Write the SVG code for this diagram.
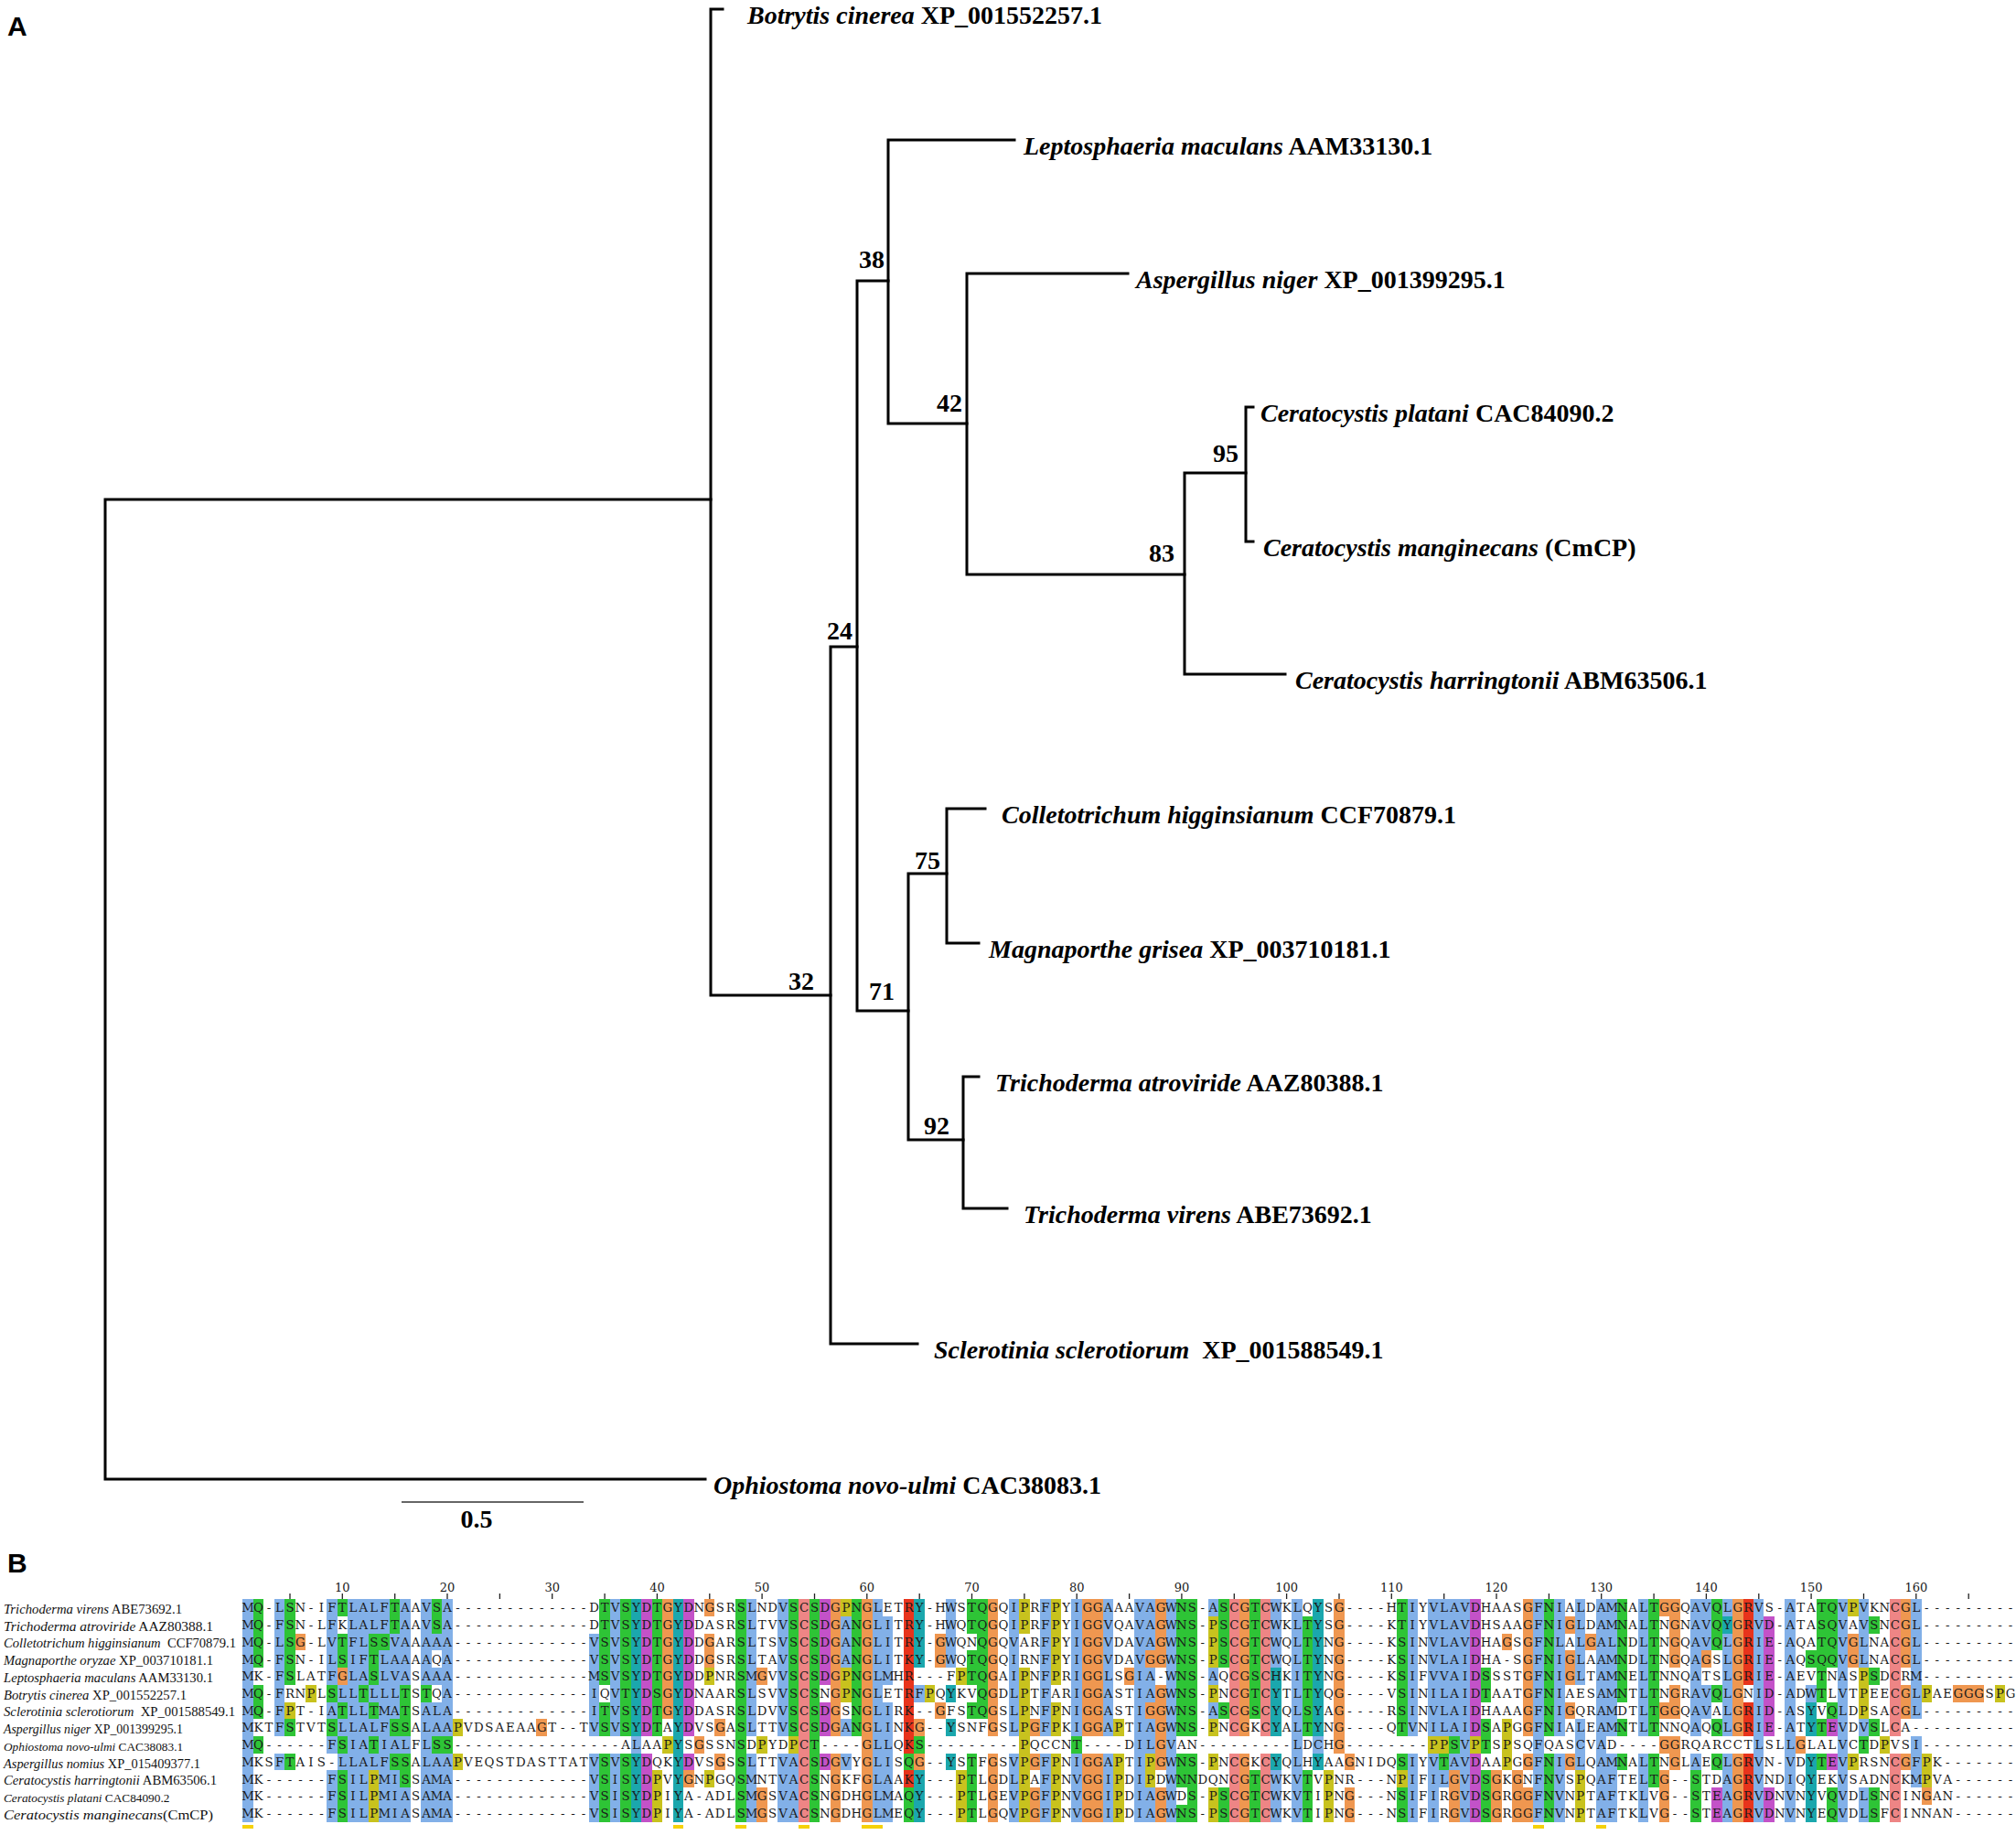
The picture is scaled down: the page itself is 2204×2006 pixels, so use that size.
<svg xmlns="http://www.w3.org/2000/svg" width="2204" height="2006" viewBox="0 0 2204 2006">
<style>
.lbl{font-family:"Liberation Serif","Times New Roman",serif;font-size:28px;font-weight:bold;fill:#000}
.it{font-style:italic}
.bs{font-family:"Liberation Serif","Times New Roman",serif;font-size:28px;font-weight:bold;text-anchor:middle;fill:#000}
.pl{font-family:"Liberation Sans",Arial,sans-serif;font-size:30px;font-weight:bold;fill:#000}
.nm{font-family:"Liberation Serif","Times New Roman",serif;font-size:14.6px;fill:#111}
.seq{font-family:"DejaVu Serif",serif;font-size:13.3px;fill:#1a1a1a;text-anchor:middle}
.rul{font-family:"DejaVu Serif",serif;font-size:13px;fill:#1a1a1a;text-anchor:middle}
.cb{fill:#82b0e8}.cg{fill:#2ec436}.cm{fill:#c352c8}.cr{fill:#e8341c}.co{fill:#ef9750}.cy{fill:#c8c21e}.cp{fill:#ee8585}.cc{fill:#1ba7ad}.cz{fill:#f5d10a}
</style>
<rect width="2204" height="2006" fill="#fff"/>
<text class="pl" x="8" y="39">A</text>
<g id="tree-connectors" stroke="#000" stroke-width="3" fill="none" stroke-linecap="square">
<path d="M115 546V1617M115 546H777M115 1617H771"/>
<path d="M777 10V1088M777 10H790M777 1088H908"/>
<path d="M908 707V1469M908 1469H1003M908 707H937"/>
<path d="M937 307V1105M937 307H971M937 1105H993"/>
<path d="M971 153V463M971 153H1109M971 463H1057"/>
<path d="M1057 299V628M1057 299H1233M1057 628H1295"/>
<path d="M1295 517V737M1295 517H1362M1295 737H1405"/>
<path d="M1362 445V592M1362 445H1370M1362 592H1370"/>
<path d="M993 955V1246M993 955H1035M993 1246H1053"/>
<path d="M1035 884V1031M1035 884H1077M1035 1031H1070"/>
<path d="M1053 1177V1321M1053 1177H1070M1053 1321H1101"/>
</g>
<g id="leaf-botrytis"><text class="lbl" x="817" y="26"><tspan class="it">Botrytis cinerea</tspan> XP_001552257.1</text></g>
<g id="leaf-leptosphaeria"><text class="lbl" x="1119" y="169"><tspan class="it">Leptosphaeria maculans</tspan> AAM33130.1</text></g>
<g id="leaf-aspergillus"><text class="lbl" x="1242" y="315"><tspan class="it">Aspergillus niger</tspan> XP_001399295.1</text></g>
<g id="leaf-platani"><text class="lbl" x="1378" y="461"><tspan class="it">Ceratocystis platani</tspan> CAC84090.2</text></g>
<g id="leaf-manginecans"><text class="lbl" x="1381" y="608"><tspan class="it">Ceratocystis manginecans</tspan> (CmCP)</text></g>
<g id="leaf-harringtonii"><text class="lbl" x="1416" y="753"><tspan class="it">Ceratocystis harringtonii</tspan> ABM63506.1</text></g>
<g id="leaf-colletotrichum"><text class="lbl" x="1095" y="900"><tspan class="it">Colletotrichum higginsianum</tspan> CCF70879.1</text></g>
<g id="leaf-magnaporthe"><text class="lbl" x="1081" y="1047"><tspan class="it">Magnaporthe grisea</tspan> XP_003710181.1</text></g>
<g id="leaf-atroviride"><text class="lbl" x="1088" y="1193"><tspan class="it">Trichoderma atroviride</tspan> AAZ80388.1</text></g>
<g id="leaf-virens"><text class="lbl" x="1119" y="1337"><tspan class="it">Trichoderma virens</tspan> ABE73692.1</text></g>
<g id="leaf-sclerotinia"><text class="lbl" x="1021" y="1485"><tspan class="it">Sclerotinia sclerotiorum</tspan>&#160; XP_001588549.1</text></g>
<g id="leaf-ophiostoma"><text class="lbl" x="780" y="1633"><tspan class="it">Ophiostoma novo-ulmi</tspan> CAC38083.1</text></g>
<g id="node-38"><text class="bs" x="953" y="293">38</text></g>
<g id="node-42"><text class="bs" x="1038" y="450">42</text></g>
<g id="node-24"><text class="bs" x="918" y="699">24</text></g>
<g id="node-32"><text class="bs" x="876" y="1082">32</text></g>
<g id="node-71"><text class="bs" x="964" y="1093">71</text></g>
<g id="node-75"><text class="bs" x="1014" y="950">75</text></g>
<g id="node-92"><text class="bs" x="1024" y="1240">92</text></g>
<g id="node-95"><text class="bs" x="1340" y="505">95</text></g>
<g id="node-83"><text class="bs" x="1270" y="614">83</text></g>
<g id="scale-bar"><path d="M439 1642H638" stroke="#333" stroke-width="1.5"/><text class="bs" x="521" y="1670">0.5</text></g>
<text class="pl" x="8" y="1719">B</text>
<g id="alignment-names">
<text class="nm" x="4" y="1764" textLength="195" lengthAdjust="spacingAndGlyphs"><tspan class="it">Trichoderma virens</tspan> ABE73692.1</text>
<text class="nm" x="4" y="1782.7" textLength="229" lengthAdjust="spacingAndGlyphs"><tspan class="it">Trichoderma atroviride</tspan> AAZ80388.1</text>
<text class="nm" x="4" y="1801.4" textLength="254" lengthAdjust="spacingAndGlyphs"><tspan class="it">Colletotrichum higginsianum</tspan>&#160; CCF70879.1</text>
<text class="nm" x="4" y="1820.2" textLength="229" lengthAdjust="spacingAndGlyphs"><tspan class="it">Magnaporthe oryzae</tspan> XP_003710181.1</text>
<text class="nm" x="4" y="1838.9" textLength="229" lengthAdjust="spacingAndGlyphs"><tspan class="it">Leptosphaeria maculans</tspan> AAM33130.1</text>
<text class="nm" x="4" y="1857.6" textLength="200" lengthAdjust="spacingAndGlyphs"><tspan class="it">Botrytis cinerea</tspan> XP_001552257.1</text>
<text class="nm" x="4" y="1876.3" textLength="253" lengthAdjust="spacingAndGlyphs"><tspan class="it">Sclerotinia sclerotiorum</tspan>&#160; XP_001588549.1</text>
<text class="nm" x="4" y="1895" textLength="196" lengthAdjust="spacingAndGlyphs"><tspan class="it">Aspergillus niger</tspan> XP_001399295.1</text>
<text class="nm" x="4" y="1913.8" style="font-size:13.3px"><tspan class="it">Ophiostoma novo-ulmi</tspan> CAC38083.1</text>
<text class="nm" x="4" y="1932.5" textLength="215" lengthAdjust="spacingAndGlyphs"><tspan class="it">Aspergillus nomius</tspan> XP_015409377.1</text>
<text class="nm" x="4" y="1951.2" textLength="233" lengthAdjust="spacingAndGlyphs"><tspan class="it">Ceratocystis harringtonii</tspan> ABM63506.1</text>
<text class="nm" x="4" y="1969.9" style="font-size:13.3px"><tspan class="it">Ceratocystis platani</tspan> CAC84090.2</text>
<text class="nm" x="4" y="1988.6" textLength="229" lengthAdjust="spacingAndGlyphs"><tspan class="it">Ceratocystis manginecans</tspan>(CmCP)</text>
</g>
<g id="alignment-ruler">
<path stroke="#222" stroke-width="1.3" fill="none" d="M317 1742v6M374.3 1742v6M431.7 1742v6M489 1742v6M546.4 1742v6M603.7 1742v6M661.1 1742v6M718.4 1742v6M775.8 1742v6M833.1 1742v6M890.5 1742v6M947.8 1742v6M1005.2 1742v6M1062.5 1742v6M1119.9 1742v6M1177.2 1742v6M1234.6 1742v6M1291.9 1742v6M1349.3 1742v6M1406.6 1742v6M1464 1742v6M1521.3 1742v6M1578.7 1742v6M1636 1742v6M1693.4 1742v6M1750.7 1742v6M1808.1 1742v6M1865.4 1742v6M1922.8 1742v6M1980.1 1742v6M2037.5 1742v6M2094.8 1742v6M2152.2 1742v6"/>
<text class="rul" x="374.3" y="1740">10</text><text class="rul" x="489" y="1740">20</text><text class="rul" x="603.7" y="1740">30</text><text class="rul" x="718.4" y="1740">40</text><text class="rul" x="833.1" y="1740">50</text><text class="rul" x="947.8" y="1740">60</text><text class="rul" x="1062.5" y="1740">70</text><text class="rul" x="1177.2" y="1740">80</text><text class="rul" x="1291.9" y="1740">90</text><text class="rul" x="1406.6" y="1740">100</text><text class="rul" x="1521.3" y="1740">110</text><text class="rul" x="1636" y="1740">120</text><text class="rul" x="1750.7" y="1740">130</text><text class="rul" x="1865.4" y="1740">140</text><text class="rul" x="1980.1" y="1740">150</text><text class="rul" x="2094.8" y="1740">160</text>
</g>
<g id="alignment-colours" transform="translate(253.865 1729.58) scale(11.47 18.72)" shape-rendering="crispEdges">
<path class="cb" d="M1 1h1v13h-1zM4 1h1v8h-1zM4 10h1v1h-1zM9 1h1v5h-1zM9 7h1v1h-1zM9 9h1v1h-1zM9 11h1v3h-1zM10 6h1v1h-1zM10 8h1v1h-1zM10 10h1v1h-1zM11 1h1v13h-1zM12 1h1v5h-1zM12 7h1v7h-1zM13 1h1v2h-1zM13 6h1v1h-1zM13 8h1v1h-1zM13 10h1v1h-1zM14 1h1v2h-1zM14 4h1v10h-1zM15 3h1v5h-1zM15 9h1v1h-1zM15 11h1v3h-1zM16 1h1v5h-1zM16 9h1v1h-1zM16 12h1v2h-1zM18 1h1v5h-1zM18 7h1v7h-1zM19 3h1v1h-1zM19 5h1v1h-1zM19 7h1v2h-1zM19 10h1v4h-1zM20 1h1v8h-1zM20 10h1v4h-1zM34 3h1v6h-1zM34 10h1v4h-1zM36 1h1v8h-1zM36 10h1v4h-1zM38 9h1v1h-1zM49 1h1v8h-1zM49 10h1v4h-1zM52 1h1v8h-1zM52 10h1v4h-1zM53 10h1v4h-1zM58 2h1v3h-1zM58 8h1v1h-1zM58 10h1v1h-1zM61 1h1v13h-1zM62 2h1v4h-1zM62 7h1v7h-1zM65 6h1v1h-1zM68 1h1v4h-1zM74 1h1v8h-1zM74 10h1v4h-1zM77 1h1v8h-1zM77 10h1v4h-1zM80 1h1v8h-1zM80 10h1v4h-1zM83 1h1v8h-1zM83 10h1v4h-1zM86 1h1v13h-1zM87 1h1v3h-1zM87 5h1v2h-1zM87 8h1v2h-1zM87 12h1v2h-1zM89 1h1v13h-1zM93 1h1v1h-1zM93 5h1v1h-1zM93 7h1v1h-1zM99 1h1v4h-1zM99 11h1v3h-1zM101 1h1v13h-1zM103 9h1v1h-1zM112 1h1v8h-1zM112 10h1v4h-1zM114 1h1v8h-1zM114 10h1v4h-1zM115 1h1v8h-1zM115 11h1v1h-1zM116 1h1v8h-1zM116 10h1v1h-1zM117 1h1v13h-1zM124 1h1v13h-1zM126 1h1v8h-1zM126 10h1v4h-1zM128 1h1v5h-1zM128 8h1v3h-1zM130 1h1v13h-1zM131 1h1v8h-1zM131 10h1v4h-1zM134 1h1v8h-1zM134 10h1v4h-1zM139 1h1v8h-1zM139 10h1v1h-1zM140 1h1v3h-1zM140 6h1v2h-1zM142 1h1v1h-1zM142 3h1v6h-1zM142 10h1v4h-1zM145 1h1v13h-1zM148 1h1v13h-1zM150 6h1v1h-1zM153 1h1v13h-1zM155 1h1v4h-1zM155 8h1v1h-1zM155 12h1v2h-1zM160 1h1v7h-1zM160 9h1v3h-1z"/>
<path class="cg" d="M2 1h1v4h-1zM2 6h1v2h-1zM2 9h1v1h-1zM5 1h1v5h-1zM5 8h1v1h-1zM5 10h1v1h-1zM9 6h1v1h-1zM9 8h1v1h-1zM10 1h1v1h-1zM10 3h1v2h-1zM10 7h1v1h-1zM10 9h1v1h-1zM10 11h1v3h-1zM12 6h1v1h-1zM13 3h1v3h-1zM13 7h1v1h-1zM13 9h1v1h-1zM14 3h1v1h-1zM15 1h1v2h-1zM15 8h1v1h-1zM15 10h1v1h-1zM16 6h1v3h-1zM16 10h1v2h-1zM18 6h1v1h-1zM19 1h1v2h-1zM19 9h1v1h-1zM20 9h1v1h-1zM35 1h1v5h-1zM35 7h1v2h-1zM35 10h1v4h-1zM37 1h1v8h-1zM37 10h1v4h-1zM40 1h1v8h-1zM48 1h1v13h-1zM53 1h1v8h-1zM55 1h1v13h-1zM59 1h1v8h-1zM64 10h1v1h-1zM64 12h1v2h-1zM65 9h1v1h-1zM70 1h1v2h-1zM70 4h1v2h-1zM70 7h1v1h-1zM70 10h1v4h-1zM71 1h1v7h-1zM80 9h1v1h-1zM90 1h1v8h-1zM90 10h1v2h-1zM90 13h1v1h-1zM91 1h1v8h-1zM91 10h1v4h-1zM94 1h1v4h-1zM94 7h1v1h-1zM94 12h1v2h-1zM97 1h1v7h-1zM97 11h1v3h-1zM102 2h1v7h-1zM102 11h1v3h-1zM111 1h1v8h-1zM111 10h1v1h-1zM111 12h1v2h-1zM115 10h1v1h-1zM116 9h1v1h-1zM119 5h1v2h-1zM119 8h1v2h-1zM119 11h1v3h-1zM125 1h1v8h-1zM125 10h1v4h-1zM132 1h1v6h-1zM132 8h1v1h-1zM132 10h1v1h-1zM135 1h1v8h-1zM135 10h1v2h-1zM139 11h1v3h-1zM141 1h1v3h-1zM141 6h1v1h-1zM141 8h1v1h-1zM141 10h1v1h-1zM150 4h1v1h-1zM151 1h1v6h-1zM151 8h1v1h-1zM151 10h1v1h-1zM152 1h1v4h-1zM152 7h1v1h-1zM152 12h1v2h-1zM155 9h1v1h-1zM156 2h1v1h-1zM156 5h1v1h-1zM156 8h1v1h-1zM156 12h1v2h-1z"/>
<path class="cm" d="M39 1h1v8h-1zM39 10h1v4h-1zM43 1h1v8h-1zM43 10h1v1h-1zM56 1h1v5h-1zM56 7h1v2h-1zM56 10h1v1h-1zM118 1h1v8h-1zM118 10h1v4h-1zM141 12h1v2h-1zM146 2h1v7h-1zM146 12h1v2h-1zM152 8h1v1h-1zM152 10h1v1h-1z"/>
<path class="cr" d="M64 1h1v9h-1zM64 11h1v1h-1zM144 1h1v5h-1zM144 7h1v2h-1zM144 10h1v4h-1z"/>
<path class="co" d="M6 3h1v1h-1zM10 5h1v1h-1zM29 8h1v1h-1zM41 1h1v7h-1zM43 11h1v1h-1zM44 9h1v1h-1zM45 1h1v1h-1zM45 3h1v2h-1zM46 8h1v1h-1zM46 10h1v1h-1zM50 5h1v1h-1zM50 12h1v2h-1zM57 1h1v8h-1zM57 10h1v4h-1zM60 1h1v13h-1zM65 8h1v1h-1zM65 10h1v1h-1zM67 3h1v2h-1zM67 7h1v1h-1zM72 1h1v8h-1zM72 10h1v4h-1zM76 8h1v1h-1zM76 10h1v1h-1zM76 12h1v2h-1zM81 1h2v8h-2zM81 10h2v4h-2zM85 5h1v1h-1zM87 4h1v1h-1zM87 7h1v1h-1zM88 1h1v4h-1zM88 6h1v5h-1zM88 12h1v2h-1zM96 1h1v8h-1zM96 10h1v4h-1zM105 1h1v9h-1zM106 10h1v1h-1zM106 12h1v2h-1zM116 11h1v3h-1zM120 11h1v3h-1zM121 3h1v1h-1zM122 11h1v3h-1zM123 1h1v8h-1zM123 10h1v1h-1zM123 12h1v2h-1zM127 2h1v1h-1zM127 4h1v2h-1zM127 7h1v1h-1zM127 10h1v1h-1zM129 3h1v1h-1zM136 1h1v1h-1zM136 7h1v1h-1zM136 9h1v1h-1zM136 11h1v3h-1zM137 1h1v4h-1zM137 6h1v2h-1zM137 9h1v2h-1zM140 4h1v1h-1zM143 1h1v8h-1zM143 10h1v4h-1zM149 9h1v1h-1zM154 3h1v2h-1zM159 1h1v4h-1zM159 6h1v2h-1zM159 10h1v1h-1zM161 12h1v1h-1zM164 6h3v1h-3z"/>
<path class="cy" d="M5 7h1v1h-1zM7 6h1v1h-1zM13 11h1v3h-1zM21 8h1v1h-1zM21 10h1v1h-1zM40 11h1v3h-1zM41 9h1v1h-1zM45 5h1v1h-1zM45 11h1v1h-1zM50 9h1v1h-1zM53 9h1v1h-1zM58 1h1v1h-1zM58 5h1v2h-1zM66 6h1v1h-1zM69 5h1v1h-1zM69 11h1v3h-1zM75 1h1v2h-1zM75 5h1v9h-1zM78 1h1v5h-1zM78 7h1v2h-1zM78 10h1v4h-1zM84 8h1v1h-1zM84 10h1v4h-1zM87 10h1v2h-1zM93 2h1v3h-1zM93 6h1v1h-1zM93 8h1v1h-1zM93 10h1v1h-1zM93 12h1v2h-1zM104 11h1v3h-1zM111 11h1v1h-1zM114 9h2v1h-2zM118 9h1v1h-1zM121 8h1v3h-1zM128 11h1v3h-1zM154 1h1v1h-1zM154 10h1v1h-1zM155 5h1v3h-1zM157 9h1v1h-1zM161 6h1v1h-1zM161 10h1v2h-1zM168 6h1v1h-1z"/>
<path class="cp" d="M54 1h1v13h-1zM95 1h1v8h-1zM95 10h1v4h-1zM98 1h1v8h-1zM98 10h1v4h-1zM158 1h1v8h-1zM158 10h1v4h-1z"/>
<path class="cc" d="M38 1h1v8h-1zM38 10h1v4h-1zM42 1h1v13h-1zM65 1h1v4h-1zM65 11h1v3h-1zM68 6h1v1h-1zM68 8h1v1h-1zM68 10h1v1h-1zM99 5h1v4h-1zM99 10h1v1h-1zM103 1h1v8h-1zM103 10h1v1h-1zM142 2h1v1h-1zM150 7h1v2h-1zM150 10h1v4h-1z"/>
<path class="cz" d="M1 14.18h1v.22h-1zM42 14.18h1v.22h-1zM48 14.18h1v.22h-1zM54 14.18h1v.22h-1zM60 14.18h2v.22h-2zM124 14.18h1v.22h-1zM130 14.18h1v.22h-1z"/>
</g>
<g id="alignment-residues">
<text class="seq" y="1762.3" x="271.1 282.5 294 305.5 317 328.4 339.9 351.4 362.8 374.3 385.8 397.2 408.7 420.2 431.7 443.1 454.6 466.1 477.5 489 500.5 511.9 523.4 534.9 546.4 557.8 569.3 580.8 592.2 603.7 615.2 626.6 638.1 649.6 661.1 672.5 684 695.5 706.9 718.4 729.9 741.3 752.8 764.3 775.8 787.2 798.7 810.2 821.6 833.1 844.6 856 867.5 879 890.5 901.9 913.4 924.9 936.3 947.8 959.3 970.7 982.2 993.7 1005.2 1016.6 1028.1 1039.6 1051 1062.5 1074 1085.4 1096.9 1108.4 1119.9 1131.3 1142.8 1154.3 1165.7 1177.2 1188.7 1200.1 1211.6 1223.1 1234.6 1246 1257.5 1269 1280.4 1291.9 1303.4 1314.8 1326.3 1337.8 1349.3 1360.7 1372.2 1383.7 1395.1 1406.6 1418.1 1429.5 1441 1452.5 1464 1475.4 1486.9 1498.4 1509.8 1521.3 1532.8 1544.2 1555.7 1567.2 1578.7 1590.1 1601.6 1613.1 1624.5 1636 1647.5 1658.9 1670.4 1681.9 1693.4 1704.8 1716.3 1727.8 1739.2 1750.7 1762.2 1773.6 1785.1 1796.6 1808.1 1819.5 1831 1842.5 1853.9 1865.4 1876.9 1888.3 1899.8 1911.3 1922.8 1934.2 1945.7 1957.2 1968.6 1980.1 1991.6 2003 2014.5 2026 2037.5 2048.9 2060.4 2071.9 2083.3 2094.8 2106.3 2117.7 2129.2 2140.7 2152.2 2163.6 2175.1 2186.6 2198">MQ-LSN-IFTLALFTAAVSA-------------DTVSYDTGYDNGSRSLNDVSCSDGPNGLETRY-HWSTQGQIPRFPYIGGAAAVAGWNS-ASCGTCWKLQYSG----HTIYVLAVDHAASGFNIALDAMNALTGGQAVQLGRVS-ATATQVPVKNCGL---------</text>
<text class="seq" y="1781" x="271.1 282.5 294 305.5 317 328.4 339.9 351.4 362.8 374.3 385.8 397.2 408.7 420.2 431.7 443.1 454.6 466.1 477.5 489 500.5 511.9 523.4 534.9 546.4 557.8 569.3 580.8 592.2 603.7 615.2 626.6 638.1 649.6 661.1 672.5 684 695.5 706.9 718.4 729.9 741.3 752.8 764.3 775.8 787.2 798.7 810.2 821.6 833.1 844.6 856 867.5 879 890.5 901.9 913.4 924.9 936.3 947.8 959.3 970.7 982.2 993.7 1005.2 1016.6 1028.1 1039.6 1051 1062.5 1074 1085.4 1096.9 1108.4 1119.9 1131.3 1142.8 1154.3 1165.7 1177.2 1188.7 1200.1 1211.6 1223.1 1234.6 1246 1257.5 1269 1280.4 1291.9 1303.4 1314.8 1326.3 1337.8 1349.3 1360.7 1372.2 1383.7 1395.1 1406.6 1418.1 1429.5 1441 1452.5 1464 1475.4 1486.9 1498.4 1509.8 1521.3 1532.8 1544.2 1555.7 1567.2 1578.7 1590.1 1601.6 1613.1 1624.5 1636 1647.5 1658.9 1670.4 1681.9 1693.4 1704.8 1716.3 1727.8 1739.2 1750.7 1762.2 1773.6 1785.1 1796.6 1808.1 1819.5 1831 1842.5 1853.9 1865.4 1876.9 1888.3 1899.8 1911.3 1922.8 1934.2 1945.7 1957.2 1968.6 1980.1 1991.6 2003 2014.5 2026 2037.5 2048.9 2060.4 2071.9 2083.3 2094.8 2106.3 2117.7 2129.2 2140.7 2152.2 2163.6 2175.1 2186.6 2198">MQ-FSN-LFKLALFTAAVSA-------------DTVSYDTGYDDASRSLTVVSCSDGANGLITRY-HWQTQGQIPRFPYIGGVQAVAGWNS-PSCGTCWKLTYSG----KTIYVLAVDHSAAGFNIGLDAMNALTNGNAVQYGRVD-ATASQVAVSNCGL---------</text>
<text class="seq" y="1799.7" x="271.1 282.5 294 305.5 317 328.4 339.9 351.4 362.8 374.3 385.8 397.2 408.7 420.2 431.7 443.1 454.6 466.1 477.5 489 500.5 511.9 523.4 534.9 546.4 557.8 569.3 580.8 592.2 603.7 615.2 626.6 638.1 649.6 661.1 672.5 684 695.5 706.9 718.4 729.9 741.3 752.8 764.3 775.8 787.2 798.7 810.2 821.6 833.1 844.6 856 867.5 879 890.5 901.9 913.4 924.9 936.3 947.8 959.3 970.7 982.2 993.7 1005.2 1016.6 1028.1 1039.6 1051 1062.5 1074 1085.4 1096.9 1108.4 1119.9 1131.3 1142.8 1154.3 1165.7 1177.2 1188.7 1200.1 1211.6 1223.1 1234.6 1246 1257.5 1269 1280.4 1291.9 1303.4 1314.8 1326.3 1337.8 1349.3 1360.7 1372.2 1383.7 1395.1 1406.6 1418.1 1429.5 1441 1452.5 1464 1475.4 1486.9 1498.4 1509.8 1521.3 1532.8 1544.2 1555.7 1567.2 1578.7 1590.1 1601.6 1613.1 1624.5 1636 1647.5 1658.9 1670.4 1681.9 1693.4 1704.8 1716.3 1727.8 1739.2 1750.7 1762.2 1773.6 1785.1 1796.6 1808.1 1819.5 1831 1842.5 1853.9 1865.4 1876.9 1888.3 1899.8 1911.3 1922.8 1934.2 1945.7 1957.2 1968.6 1980.1 1991.6 2003 2014.5 2026 2037.5 2048.9 2060.4 2071.9 2083.3 2094.8 2106.3 2117.7 2129.2 2140.7 2152.2 2163.6 2175.1 2186.6 2198">MQ-LSG-LVTFLSSVAAAAA-------------VSVSYDTGYDDGARSLTSVSCSDGANGLITRY-GWQNQGQVARFPYIGGVDAVAGWNS-PSCGTCWQLTYNG----KSINVLAVDHAGSGFNLALGALNDLTNGQAVQLGRIE-AQATQVGLNACGL---------</text>
<text class="seq" y="1818.5" x="271.1 282.5 294 305.5 317 328.4 339.9 351.4 362.8 374.3 385.8 397.2 408.7 420.2 431.7 443.1 454.6 466.1 477.5 489 500.5 511.9 523.4 534.9 546.4 557.8 569.3 580.8 592.2 603.7 615.2 626.6 638.1 649.6 661.1 672.5 684 695.5 706.9 718.4 729.9 741.3 752.8 764.3 775.8 787.2 798.7 810.2 821.6 833.1 844.6 856 867.5 879 890.5 901.9 913.4 924.9 936.3 947.8 959.3 970.7 982.2 993.7 1005.2 1016.6 1028.1 1039.6 1051 1062.5 1074 1085.4 1096.9 1108.4 1119.9 1131.3 1142.8 1154.3 1165.7 1177.2 1188.7 1200.1 1211.6 1223.1 1234.6 1246 1257.5 1269 1280.4 1291.9 1303.4 1314.8 1326.3 1337.8 1349.3 1360.7 1372.2 1383.7 1395.1 1406.6 1418.1 1429.5 1441 1452.5 1464 1475.4 1486.9 1498.4 1509.8 1521.3 1532.8 1544.2 1555.7 1567.2 1578.7 1590.1 1601.6 1613.1 1624.5 1636 1647.5 1658.9 1670.4 1681.9 1693.4 1704.8 1716.3 1727.8 1739.2 1750.7 1762.2 1773.6 1785.1 1796.6 1808.1 1819.5 1831 1842.5 1853.9 1865.4 1876.9 1888.3 1899.8 1911.3 1922.8 1934.2 1945.7 1957.2 1968.6 1980.1 1991.6 2003 2014.5 2026 2037.5 2048.9 2060.4 2071.9 2083.3 2094.8 2106.3 2117.7 2129.2 2140.7 2152.2 2163.6 2175.1 2186.6 2198">MQ-FSN-ILSIFTLAAAAQA-------------VSVSYDTGYDDGSRSLTAVSCSDGANGLITKY-GWQTQGQIRNFPYIGGVDAVGGWNS-PSCGTCWQLTYNG----KSINVLAIDHA-SGFNIGLAAMNDLTNGQAGSLGRIE-AQSQQVGLNACGL---------</text>
<text class="seq" y="1837.2" x="271.1 282.5 294 305.5 317 328.4 339.9 351.4 362.8 374.3 385.8 397.2 408.7 420.2 431.7 443.1 454.6 466.1 477.5 489 500.5 511.9 523.4 534.9 546.4 557.8 569.3 580.8 592.2 603.7 615.2 626.6 638.1 649.6 661.1 672.5 684 695.5 706.9 718.4 729.9 741.3 752.8 764.3 775.8 787.2 798.7 810.2 821.6 833.1 844.6 856 867.5 879 890.5 901.9 913.4 924.9 936.3 947.8 959.3 970.7 982.2 993.7 1005.2 1016.6 1028.1 1039.6 1051 1062.5 1074 1085.4 1096.9 1108.4 1119.9 1131.3 1142.8 1154.3 1165.7 1177.2 1188.7 1200.1 1211.6 1223.1 1234.6 1246 1257.5 1269 1280.4 1291.9 1303.4 1314.8 1326.3 1337.8 1349.3 1360.7 1372.2 1383.7 1395.1 1406.6 1418.1 1429.5 1441 1452.5 1464 1475.4 1486.9 1498.4 1509.8 1521.3 1532.8 1544.2 1555.7 1567.2 1578.7 1590.1 1601.6 1613.1 1624.5 1636 1647.5 1658.9 1670.4 1681.9 1693.4 1704.8 1716.3 1727.8 1739.2 1750.7 1762.2 1773.6 1785.1 1796.6 1808.1 1819.5 1831 1842.5 1853.9 1865.4 1876.9 1888.3 1899.8 1911.3 1922.8 1934.2 1945.7 1957.2 1968.6 1980.1 1991.6 2003 2014.5 2026 2037.5 2048.9 2060.4 2071.9 2083.3 2094.8 2106.3 2117.7 2129.2 2140.7 2152.2 2163.6 2175.1 2186.6 2198">MK-FSLATFGLASLVASAAA-------------MSVSYDTGYDDPNRSMGVVSCSDGPNGLMHR---FPTQGAIPNFPRIGGLSGIA-WNS-AQCGSCHKITYNG----KSIFVVAIDSSSTGFNIGLTAMNELTNNQATSLGRIE-AEVTNASPSDCRM---------</text>
<text class="seq" y="1855.9" x="271.1 282.5 294 305.5 317 328.4 339.9 351.4 362.8 374.3 385.8 397.2 408.7 420.2 431.7 443.1 454.6 466.1 477.5 489 500.5 511.9 523.4 534.9 546.4 557.8 569.3 580.8 592.2 603.7 615.2 626.6 638.1 649.6 661.1 672.5 684 695.5 706.9 718.4 729.9 741.3 752.8 764.3 775.8 787.2 798.7 810.2 821.6 833.1 844.6 856 867.5 879 890.5 901.9 913.4 924.9 936.3 947.8 959.3 970.7 982.2 993.7 1005.2 1016.6 1028.1 1039.6 1051 1062.5 1074 1085.4 1096.9 1108.4 1119.9 1131.3 1142.8 1154.3 1165.7 1177.2 1188.7 1200.1 1211.6 1223.1 1234.6 1246 1257.5 1269 1280.4 1291.9 1303.4 1314.8 1326.3 1337.8 1349.3 1360.7 1372.2 1383.7 1395.1 1406.6 1418.1 1429.5 1441 1452.5 1464 1475.4 1486.9 1498.4 1509.8 1521.3 1532.8 1544.2 1555.7 1567.2 1578.7 1590.1 1601.6 1613.1 1624.5 1636 1647.5 1658.9 1670.4 1681.9 1693.4 1704.8 1716.3 1727.8 1739.2 1750.7 1762.2 1773.6 1785.1 1796.6 1808.1 1819.5 1831 1842.5 1853.9 1865.4 1876.9 1888.3 1899.8 1911.3 1922.8 1934.2 1945.7 1957.2 1968.6 1980.1 1991.6 2003 2014.5 2026 2037.5 2048.9 2060.4 2071.9 2083.3 2094.8 2106.3 2117.7 2129.2 2140.7 2152.2 2163.6 2175.1 2186.6 2198">MQ-FRNPLSLLTLLLTSTQA-------------IQVTYDSGYDNAARSLSVVSCSNGPNGLETRFPQYKVQGDLPTFARIGGASTIAGWNS-PNCGTCYTLTYQG----VSINILAIDTAATGFNIAESAMNTLTNGRAVQLGNID-ADWTLVTPEECGLPAEGGGSPG</text>
<text class="seq" y="1874.6" x="271.1 282.5 294 305.5 317 328.4 339.9 351.4 362.8 374.3 385.8 397.2 408.7 420.2 431.7 443.1 454.6 466.1 477.5 489 500.5 511.9 523.4 534.9 546.4 557.8 569.3 580.8 592.2 603.7 615.2 626.6 638.1 649.6 661.1 672.5 684 695.5 706.9 718.4 729.9 741.3 752.8 764.3 775.8 787.2 798.7 810.2 821.6 833.1 844.6 856 867.5 879 890.5 901.9 913.4 924.9 936.3 947.8 959.3 970.7 982.2 993.7 1005.2 1016.6 1028.1 1039.6 1051 1062.5 1074 1085.4 1096.9 1108.4 1119.9 1131.3 1142.8 1154.3 1165.7 1177.2 1188.7 1200.1 1211.6 1223.1 1234.6 1246 1257.5 1269 1280.4 1291.9 1303.4 1314.8 1326.3 1337.8 1349.3 1360.7 1372.2 1383.7 1395.1 1406.6 1418.1 1429.5 1441 1452.5 1464 1475.4 1486.9 1498.4 1509.8 1521.3 1532.8 1544.2 1555.7 1567.2 1578.7 1590.1 1601.6 1613.1 1624.5 1636 1647.5 1658.9 1670.4 1681.9 1693.4 1704.8 1716.3 1727.8 1739.2 1750.7 1762.2 1773.6 1785.1 1796.6 1808.1 1819.5 1831 1842.5 1853.9 1865.4 1876.9 1888.3 1899.8 1911.3 1922.8 1934.2 1945.7 1957.2 1968.6 1980.1 1991.6 2003 2014.5 2026 2037.5 2048.9 2060.4 2071.9 2083.3 2094.8 2106.3 2117.7 2129.2 2140.7 2152.2 2163.6 2175.1 2186.6 2198">MQ-FPT-IATLLTMATSALA-------------ITVSYDTGYDDASRSLDVVSCSDGSNGLIRK--GFSTQGSLPNFPNIGGASTIGGWNS-ASCGSCYQLSYAG----RSINVLAIDHAAAGFNIGQRAMDTLTGGQAVALGRID-ASYVQLDPSACGL---------</text>
<text class="seq" y="1893.3" x="271.1 282.5 294 305.5 317 328.4 339.9 351.4 362.8 374.3 385.8 397.2 408.7 420.2 431.7 443.1 454.6 466.1 477.5 489 500.5 511.9 523.4 534.9 546.4 557.8 569.3 580.8 592.2 603.7 615.2 626.6 638.1 649.6 661.1 672.5 684 695.5 706.9 718.4 729.9 741.3 752.8 764.3 775.8 787.2 798.7 810.2 821.6 833.1 844.6 856 867.5 879 890.5 901.9 913.4 924.9 936.3 947.8 959.3 970.7 982.2 993.7 1005.2 1016.6 1028.1 1039.6 1051 1062.5 1074 1085.4 1096.9 1108.4 1119.9 1131.3 1142.8 1154.3 1165.7 1177.2 1188.7 1200.1 1211.6 1223.1 1234.6 1246 1257.5 1269 1280.4 1291.9 1303.4 1314.8 1326.3 1337.8 1349.3 1360.7 1372.2 1383.7 1395.1 1406.6 1418.1 1429.5 1441 1452.5 1464 1475.4 1486.9 1498.4 1509.8 1521.3 1532.8 1544.2 1555.7 1567.2 1578.7 1590.1 1601.6 1613.1 1624.5 1636 1647.5 1658.9 1670.4 1681.9 1693.4 1704.8 1716.3 1727.8 1739.2 1750.7 1762.2 1773.6 1785.1 1796.6 1808.1 1819.5 1831 1842.5 1853.9 1865.4 1876.9 1888.3 1899.8 1911.3 1922.8 1934.2 1945.7 1957.2 1968.6 1980.1 1991.6 2003 2014.5 2026 2037.5 2048.9 2060.4 2071.9 2083.3 2094.8 2106.3 2117.7 2129.2 2140.7 2152.2 2163.6 2175.1 2186.6 2198">MKTFSTVTSLLALFSSALAAPVDSAEAAGT--TVSVSYDTAYDVSGASLTTVSCSDGANGLINKG--YSNFGSLPGFPKIGGAPTIAGWNS-PNCGKCYALTYNG----QTVNILAIDSAPGGFNIALEAMNTLTNNQAQQLGRIE-ATYTEVDVSLCA----------</text>
<text class="seq" y="1912.1" x="271.1 282.5 294 305.5 317 328.4 339.9 351.4 362.8 374.3 385.8 397.2 408.7 420.2 431.7 443.1 454.6 466.1 477.5 489 500.5 511.9 523.4 534.9 546.4 557.8 569.3 580.8 592.2 603.7 615.2 626.6 638.1 649.6 661.1 672.5 684 695.5 706.9 718.4 729.9 741.3 752.8 764.3 775.8 787.2 798.7 810.2 821.6 833.1 844.6 856 867.5 879 890.5 901.9 913.4 924.9 936.3 947.8 959.3 970.7 982.2 993.7 1005.2 1016.6 1028.1 1039.6 1051 1062.5 1074 1085.4 1096.9 1108.4 1119.9 1131.3 1142.8 1154.3 1165.7 1177.2 1188.7 1200.1 1211.6 1223.1 1234.6 1246 1257.5 1269 1280.4 1291.9 1303.4 1314.8 1326.3 1337.8 1349.3 1360.7 1372.2 1383.7 1395.1 1406.6 1418.1 1429.5 1441 1452.5 1464 1475.4 1486.9 1498.4 1509.8 1521.3 1532.8 1544.2 1555.7 1567.2 1578.7 1590.1 1601.6 1613.1 1624.5 1636 1647.5 1658.9 1670.4 1681.9 1693.4 1704.8 1716.3 1727.8 1739.2 1750.7 1762.2 1773.6 1785.1 1796.6 1808.1 1819.5 1831 1842.5 1853.9 1865.4 1876.9 1888.3 1899.8 1911.3 1922.8 1934.2 1945.7 1957.2 1968.6 1980.1 1991.6 2003 2014.5 2026 2037.5 2048.9 2060.4 2071.9 2083.3 2094.8 2106.3 2117.7 2129.2 2140.7 2152.2 2163.6 2175.1 2186.6 2198">MQ------FSIATIALFLSS----------------ALAAPYSGSSNSDPYDPCT----GLLQKS---------PQCCNT----DILGVAN---------LDCHG--------PPSVPTSPSQFQASCVAD----GGRQARCCTLSLLGLALVCTDPVSI---------</text>
<text class="seq" y="1930.8" x="271.1 282.5 294 305.5 317 328.4 339.9 351.4 362.8 374.3 385.8 397.2 408.7 420.2 431.7 443.1 454.6 466.1 477.5 489 500.5 511.9 523.4 534.9 546.4 557.8 569.3 580.8 592.2 603.7 615.2 626.6 638.1 649.6 661.1 672.5 684 695.5 706.9 718.4 729.9 741.3 752.8 764.3 775.8 787.2 798.7 810.2 821.6 833.1 844.6 856 867.5 879 890.5 901.9 913.4 924.9 936.3 947.8 959.3 970.7 982.2 993.7 1005.2 1016.6 1028.1 1039.6 1051 1062.5 1074 1085.4 1096.9 1108.4 1119.9 1131.3 1142.8 1154.3 1165.7 1177.2 1188.7 1200.1 1211.6 1223.1 1234.6 1246 1257.5 1269 1280.4 1291.9 1303.4 1314.8 1326.3 1337.8 1349.3 1360.7 1372.2 1383.7 1395.1 1406.6 1418.1 1429.5 1441 1452.5 1464 1475.4 1486.9 1498.4 1509.8 1521.3 1532.8 1544.2 1555.7 1567.2 1578.7 1590.1 1601.6 1613.1 1624.5 1636 1647.5 1658.9 1670.4 1681.9 1693.4 1704.8 1716.3 1727.8 1739.2 1750.7 1762.2 1773.6 1785.1 1796.6 1808.1 1819.5 1831 1842.5 1853.9 1865.4 1876.9 1888.3 1899.8 1911.3 1922.8 1934.2 1945.7 1957.2 1968.6 1980.1 1991.6 2003 2014.5 2026 2037.5 2048.9 2060.4 2071.9 2083.3 2094.8 2106.3 2117.7 2129.2 2140.7 2152.2 2163.6 2175.1 2186.6 2198">MKSFTAIS-LLALFSSALAAPVEQSTDASTTATVSVSYDQKYDVSGSSLTTVACSDGVYGLISQG--YSTFGSVPGFPNIGGAPTIPGWNS-PNCGKCYQLHYAAGNIDQSIYVTAVDAAPGGFNIGLQAMNALTNGLAEQLGRVN-VDYTEVPRSNCGFPK-------</text>
<text class="seq" y="1949.5" x="271.1 282.5 294 305.5 317 328.4 339.9 351.4 362.8 374.3 385.8 397.2 408.7 420.2 431.7 443.1 454.6 466.1 477.5 489 500.5 511.9 523.4 534.9 546.4 557.8 569.3 580.8 592.2 603.7 615.2 626.6 638.1 649.6 661.1 672.5 684 695.5 706.9 718.4 729.9 741.3 752.8 764.3 775.8 787.2 798.7 810.2 821.6 833.1 844.6 856 867.5 879 890.5 901.9 913.4 924.9 936.3 947.8 959.3 970.7 982.2 993.7 1005.2 1016.6 1028.1 1039.6 1051 1062.5 1074 1085.4 1096.9 1108.4 1119.9 1131.3 1142.8 1154.3 1165.7 1177.2 1188.7 1200.1 1211.6 1223.1 1234.6 1246 1257.5 1269 1280.4 1291.9 1303.4 1314.8 1326.3 1337.8 1349.3 1360.7 1372.2 1383.7 1395.1 1406.6 1418.1 1429.5 1441 1452.5 1464 1475.4 1486.9 1498.4 1509.8 1521.3 1532.8 1544.2 1555.7 1567.2 1578.7 1590.1 1601.6 1613.1 1624.5 1636 1647.5 1658.9 1670.4 1681.9 1693.4 1704.8 1716.3 1727.8 1739.2 1750.7 1762.2 1773.6 1785.1 1796.6 1808.1 1819.5 1831 1842.5 1853.9 1865.4 1876.9 1888.3 1899.8 1911.3 1922.8 1934.2 1945.7 1957.2 1968.6 1980.1 1991.6 2003 2014.5 2026 2037.5 2048.9 2060.4 2071.9 2083.3 2094.8 2106.3 2117.7 2129.2 2140.7 2152.2 2163.6 2175.1 2186.6 2198">MK------FSILPMISSAMA-------------VSISYDPVYGNPGQSMNTVACSNGKFGLAAKY---PTLGDLPAFPNVGGIPDIPDWNNDQNCGTCWKVTVPNR---NPIFILGVDSGKGNFNVSPQAFTELTG--STDAGRVNDIQYEKVSADNCKMPVA------</text>
<text class="seq" y="1968.2" x="271.1 282.5 294 305.5 317 328.4 339.9 351.4 362.8 374.3 385.8 397.2 408.7 420.2 431.7 443.1 454.6 466.1 477.5 489 500.5 511.9 523.4 534.9 546.4 557.8 569.3 580.8 592.2 603.7 615.2 626.6 638.1 649.6 661.1 672.5 684 695.5 706.9 718.4 729.9 741.3 752.8 764.3 775.8 787.2 798.7 810.2 821.6 833.1 844.6 856 867.5 879 890.5 901.9 913.4 924.9 936.3 947.8 959.3 970.7 982.2 993.7 1005.2 1016.6 1028.1 1039.6 1051 1062.5 1074 1085.4 1096.9 1108.4 1119.9 1131.3 1142.8 1154.3 1165.7 1177.2 1188.7 1200.1 1211.6 1223.1 1234.6 1246 1257.5 1269 1280.4 1291.9 1303.4 1314.8 1326.3 1337.8 1349.3 1360.7 1372.2 1383.7 1395.1 1406.6 1418.1 1429.5 1441 1452.5 1464 1475.4 1486.9 1498.4 1509.8 1521.3 1532.8 1544.2 1555.7 1567.2 1578.7 1590.1 1601.6 1613.1 1624.5 1636 1647.5 1658.9 1670.4 1681.9 1693.4 1704.8 1716.3 1727.8 1739.2 1750.7 1762.2 1773.6 1785.1 1796.6 1808.1 1819.5 1831 1842.5 1853.9 1865.4 1876.9 1888.3 1899.8 1911.3 1922.8 1934.2 1945.7 1957.2 1968.6 1980.1 1991.6 2003 2014.5 2026 2037.5 2048.9 2060.4 2071.9 2083.3 2094.8 2106.3 2117.7 2129.2 2140.7 2152.2 2163.6 2175.1 2186.6 2198">MK------FSILPMIASAMA-------------VSISYDPIYA-ADLSMGSVACSNGDHGLMAQY---PTLGEVPGFPNVGGIPDIAGWDS-PSCGTCWKVTIPNG---NSIFIRGVDSGRGGFNVNPTAFTKLVG--STEAGRVDNVNYVQVDLSNCINGAN------</text>
<text class="seq" y="1986.9" x="271.1 282.5 294 305.5 317 328.4 339.9 351.4 362.8 374.3 385.8 397.2 408.7 420.2 431.7 443.1 454.6 466.1 477.5 489 500.5 511.9 523.4 534.9 546.4 557.8 569.3 580.8 592.2 603.7 615.2 626.6 638.1 649.6 661.1 672.5 684 695.5 706.9 718.4 729.9 741.3 752.8 764.3 775.8 787.2 798.7 810.2 821.6 833.1 844.6 856 867.5 879 890.5 901.9 913.4 924.9 936.3 947.8 959.3 970.7 982.2 993.7 1005.2 1016.6 1028.1 1039.6 1051 1062.5 1074 1085.4 1096.9 1108.4 1119.9 1131.3 1142.8 1154.3 1165.7 1177.2 1188.7 1200.1 1211.6 1223.1 1234.6 1246 1257.5 1269 1280.4 1291.9 1303.4 1314.8 1326.3 1337.8 1349.3 1360.7 1372.2 1383.7 1395.1 1406.6 1418.1 1429.5 1441 1452.5 1464 1475.4 1486.9 1498.4 1509.8 1521.3 1532.8 1544.2 1555.7 1567.2 1578.7 1590.1 1601.6 1613.1 1624.5 1636 1647.5 1658.9 1670.4 1681.9 1693.4 1704.8 1716.3 1727.8 1739.2 1750.7 1762.2 1773.6 1785.1 1796.6 1808.1 1819.5 1831 1842.5 1853.9 1865.4 1876.9 1888.3 1899.8 1911.3 1922.8 1934.2 1945.7 1957.2 1968.6 1980.1 1991.6 2003 2014.5 2026 2037.5 2048.9 2060.4 2071.9 2083.3 2094.8 2106.3 2117.7 2129.2 2140.7 2152.2 2163.6 2175.1 2186.6 2198">MK------FSILPMIASAMA-------------VSISYDPIYA-ADLSMGSVACSNGDHGLMEQY---PTLGQVPGFPNVGGIPDIAGWNS-PSCGTCWKVTIPNG---NSIFIRGVDSGRGGFNVNPTAFTKLVG--STEAGRVDNVNYEQVDLSFCINNAN------</text>
</g>
</svg>
